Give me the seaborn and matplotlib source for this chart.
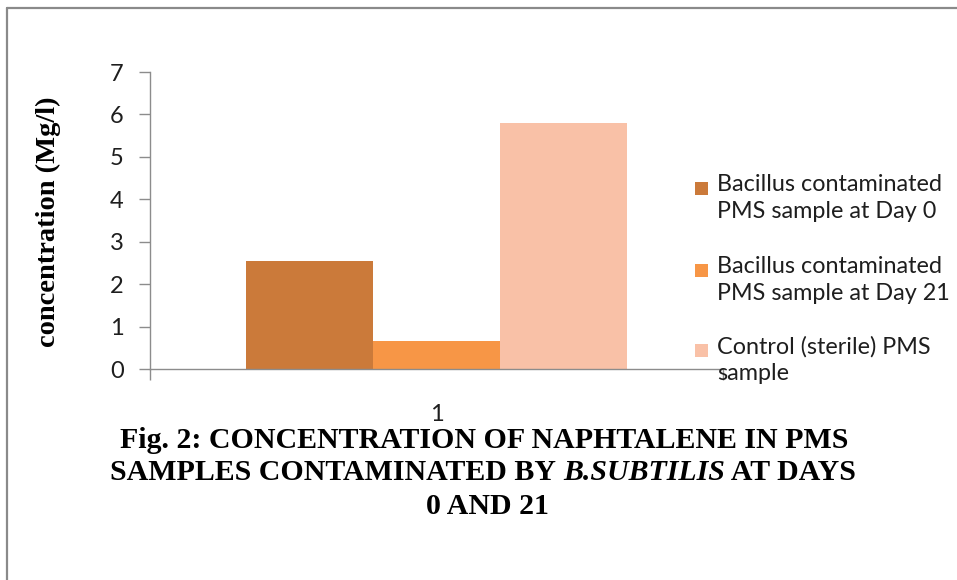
import matplotlib
matplotlib.use("Agg")
import matplotlib.pyplot as plt
from matplotlib.lines import Line2D
from matplotlib.patches import Rectangle
import seaborn as sns
import pandas as pd

# Naphthalene concentration (Mg/l) in PMS samples
categories = ["1", "1", "1"]
series = [
    "Bacillus contaminated\nPMS sample at Day 0",
    "Bacillus contaminated\nPMS sample at Day 21",
    "Control (sterile) PMS\nsample",
]
values = [2.55, 0.65, 5.8]
colors = ["#CB7A3A", "#F79646", "#F9C1A7"]
y_ticks = [0, 1, 2, 3, 4, 5, 6, 7]

df = pd.DataFrame({"group": categories, "series": series, "value": values})

sns.set_theme(style="white")
plt.rcParams["font.family"] = ["Lato", "DejaVu Sans"]

W, H, DPI = 957, 580, 100
fig = plt.figure(figsize=(W / DPI, H / DPI), dpi=DPI)
fig.patch.set_facecolor("white")

def fx(px):
    return px / W

def fy(py):
    return 1 - py / H

ax = fig.add_axes([fx(150), fy(369), fx(723) - fx(150), fy(72) - fy(369)])
sns.barplot(data=df, x="group", y="value", hue="series", palette=colors,
            width=0.665, gap=0, saturation=1, legend=False, ax=ax,
            edgecolor="none", linewidth=0)

axis_grey = "#8C8C8C"
text_col = "#1E1E1E"
ax.set_xlim(-0.5, 0.5)
ax.set_ylim(0, 7)
ax.set_yticks(y_ticks)
ax.set_yticklabels([str(t) for t in y_ticks], fontsize=17, color=text_col)
ax.tick_params(axis="y", direction="out", length=8, width=1, color=axis_grey,
               pad=11, left=True)

# category boundary ticks on the x axis, label at the centre
ax.set_xticks([-0.5, 0.5])
ax.set_xticklabels(["", ""])
ax.set_xticks([0], minor=True)
ax.set_xticklabels(["1"], minor=True, fontsize=17, color=text_col)
ax.tick_params(axis="x", which="major", direction="out", length=8, width=1,
               color=axis_grey, bottom=True)
ax.tick_params(axis="x", which="minor", length=0, pad=25)
ax.set_xlabel("")
ax.set_ylabel("")

for side in ["top", "right"]:
    ax.spines[side].set_visible(False)
for side in ["left", "bottom"]:
    ax.spines[side].set_color(axis_grey)
    ax.spines[side].set_linewidth(1)

# y axis title
fig.text(fx(48), fy(222), "concentration (Mg/l)", rotation=90,
         ha="center", va="center", fontsize=20.5, fontweight="bold",
         family="Liberation Serif", color="black")

# legend
leg_rows = [188, 270, 350]
for lab, col, yy in zip(series, colors, leg_rows):
    fig.patches.append(Rectangle((fx(695), fy(yy + 7)), fx(13), fy(yy - 6) - fy(yy + 7),
                                 transform=fig.transFigure, facecolor=col,
                                 edgecolor="none"))
    fig.text(fx(717), fy(yy - 14), lab, ha="left", va="top", fontsize=16.8,
             color=text_col, linespacing=1.33, transform=fig.transFigure)

# figure caption
cap_kw = dict(fontsize=21.5, fontweight="bold", family="Liberation Serif", color="black")
fig.text(fx(484), fy(440), "Fig. 2: CONCENTRATION OF NAPHTALENE IN PMS",
         ha="center", va="center", **cap_kw)
fig.text(fx(487), fy(507), "0 AND 21", ha="center", va="center", **cap_kw)

fig.canvas.draw()
renderer = fig.canvas.get_renderer()
parts = [("SAMPLES CONTAMINATED BY ", "normal"), ("B.SUBTILIS", "italic"),
         (" AT DAYS", "normal")]
tmp = []
for txt, st in parts:
    t = fig.text(0, fy(473), txt, ha="left", va="center", style=st, **cap_kw)
    tmp.append(t)
widths = [t.get_window_extent(renderer).width for t in tmp]
x0 = 483 - sum(widths) / 2
for t, w in zip(tmp, widths):
    t.set_x(fx(x0))
    x0 += w

# outer frame (top and left edges)
frame_grey = "#8A8A8A"
fig.add_artist(Line2D([fx(7), 1], [fy(8), fy(8)], transform=fig.transFigure,
                      color=frame_grey, lw=1.6))
fig.add_artist(Line2D([fx(7), fx(7)], [fy(8), 0], transform=fig.transFigure,
                      color=frame_grey, lw=1.6))

fig.savefig("out.png", dpi=DPI, facecolor="white")
